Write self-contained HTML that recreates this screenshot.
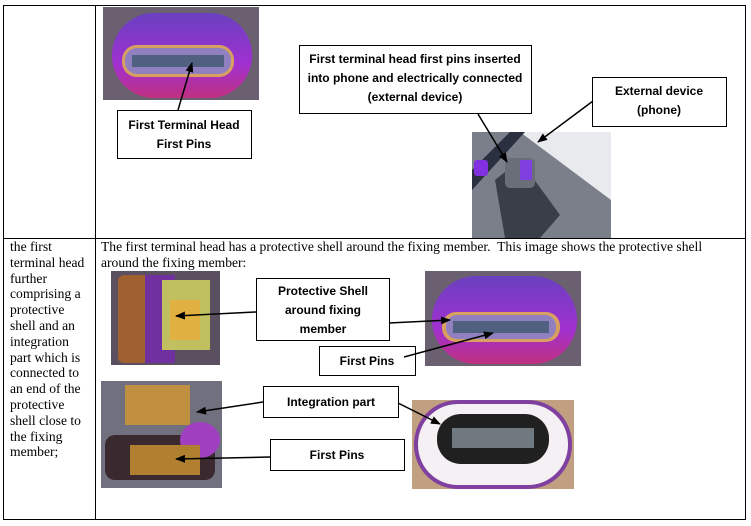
<!DOCTYPE html>
<html><head><meta charset="utf-8"><style>
body{margin:0;width:751px;height:526px;background:#fff;position:relative;overflow:hidden}
.t{position:absolute;font-family:"Liberation Serif",serif;font-size:13.6px;color:#000}
</style></head><body>
<svg width="751" height="526" style="position:absolute;left:0;top:0" font-family="Liberation Sans, sans-serif">
<defs>
<marker id="a" markerWidth="10" markerHeight="8" refX="9" refY="4" orient="auto" markerUnits="userSpaceOnUse"><path d="M0,0 L10,4 L0,8 z" fill="#000"/></marker>
<linearGradient id="pu" x1="0" y1="0" x2="0" y2="1"><stop offset="0" stop-color="#6a40c0"/><stop offset="0.6" stop-color="#a030d0"/><stop offset="1" stop-color="#c03080"/></linearGradient>
</defs>
<rect x="3.5" y="5.5" width="742" height="514" fill="none" stroke="#000"/>
<line x1="95.5" y1="5" x2="95.5" y2="520" stroke="#000"/>
<line x1="3" y1="238.5" x2="746" y2="238.5" stroke="#000"/>
<rect x="103" y="7" width="156" height="93" fill="#6a6070"/>
<rect x="112" y="13" width="140" height="85" rx="42" fill="url(#pu)"/>
<rect x="122" y="45" width="112" height="32" rx="15" fill="#d8a060"/>
<rect x="125" y="48" width="106" height="26" rx="12" fill="#9080c0"/>
<rect x="132" y="55" width="92" height="12" fill="#506080"/>
<rect x="472" y="132" width="139" height="106" fill="#7a7f8a"/>
<polygon points="520,132 611,132 611,200" fill="#e8eaee"/>
<polygon points="472,170 510,132 525,132 472,190" fill="#2a3040"/>
<rect x="474" y="160" width="14" height="16" rx="3" fill="#8030e0"/>
<polygon points="495,180 520,160 560,215 540,238 505,238" fill="#3a3e48"/>
<rect x="505" y="158" width="30" height="30" rx="5" fill="#6a6e78"/>
<rect x="520" y="160" width="12" height="20" fill="#8040e0"/>
<rect x="111" y="271" width="109" height="94" fill="#5a5060"/>
<rect x="118" y="275" width="32" height="88" rx="6" fill="#a06030"/>
<rect x="145" y="275" width="30" height="88" fill="#7030a0"/>
<rect x="162" y="280" width="48" height="70" fill="#c0c060"/>
<rect x="170" y="300" width="30" height="40" fill="#e0b040"/>
<rect x="101" y="381" width="121" height="107" fill="#70707e"/>
<rect x="125" y="385" width="65" height="40" fill="#c09040"/>
<rect x="105" y="435" width="110" height="45" rx="10" fill="#3a2a30"/>
<ellipse cx="200" cy="440" rx="20" ry="18" fill="#a040c0"/>
<rect x="130" y="445" width="70" height="30" fill="#b08030"/>
<rect x="425" y="271" width="156" height="95" fill="#6a6070"/>
<rect x="432" y="276" width="145" height="88" rx="44" fill="url(#pu)"/>
<rect x="442" y="312" width="118" height="30" rx="14" fill="#d8a060"/>
<rect x="446" y="315" width="110" height="24" rx="11" fill="#9080c0"/>
<rect x="453" y="321" width="96" height="12" fill="#506080"/>
<rect x="412" y="400" width="162" height="89" fill="#c0a080"/>
<rect x="414" y="400" width="158" height="89" rx="44" fill="#8040a0"/>
<rect x="418" y="404" width="150" height="81" rx="40" fill="#f4f0f4"/>
<rect x="437" y="414" width="112" height="50" rx="24" fill="#202020"/>
<rect x="452" y="428" width="82" height="20" fill="#707880"/>
<g fill="#fff" stroke="#000" stroke-width="1">
<rect x="117.5" y="110.5" width="134" height="48"/>
<rect x="299.5" y="45.5" width="232" height="68"/>
<rect x="592.5" y="77.5" width="134" height="49"/>
<rect x="256.5" y="278.5" width="133" height="62"/>
<rect x="319.5" y="346.5" width="96" height="29"/>
<rect x="263.5" y="386.5" width="135" height="31"/>
<rect x="270.5" y="439.5" width="134" height="31"/>
</g>
<g stroke="#000" stroke-width="1.5" marker-end="url(#a)">
<line x1="178" y1="110" x2="192" y2="63"/>
<line x1="478" y1="114" x2="507" y2="162"/>
<line x1="593" y1="101" x2="538" y2="142"/>
<line x1="256" y1="312" x2="176" y2="316"/>
<line x1="389" y1="323" x2="450" y2="320"/>
<line x1="404" y1="357" x2="493" y2="333"/>
<line x1="263" y1="402" x2="197" y2="412"/>
<line x1="270" y1="457" x2="176" y2="459"/>
<line x1="398" y1="403" x2="440" y2="424"/>
</g>
<g font-size="12" font-weight="bold" text-anchor="middle" fill="#000">
<text x="184" y="129">First Terminal Head</text>
<text x="184" y="148">First Pins</text>
<text x="415" y="63">First terminal head first pins inserted</text>
<text x="415" y="82">into phone and electrically connected</text>
<text x="415" y="101">(external device)</text>
<text x="659" y="95">External device</text>
<text x="659" y="114">(phone)</text>
<text x="323" y="295">Protective Shell</text>
<text x="323" y="314">around fixing</text>
<text x="323" y="333">member</text>
<text x="367" y="365">First Pins</text>
<text x="331" y="406">Integration part</text>
<text x="337" y="459">First Pins</text>
</g>
</svg>
<div class="t" style="left:10px;top:239px;width:86px;line-height:15.8px">the first<br>terminal head<br>further<br>comprising a<br>protective<br>shell and an<br>integration<br>part which is<br>connected to<br>an end of the<br>protective<br>shell close to<br>the fixing<br>member;</div>
<div class="t" style="left:101px;top:239px;width:640px;line-height:15.8px">The first terminal head has a protective shell around the fixing member.&nbsp; This image shows the protective shell<br>around the fixing member:</div>
</body></html>
